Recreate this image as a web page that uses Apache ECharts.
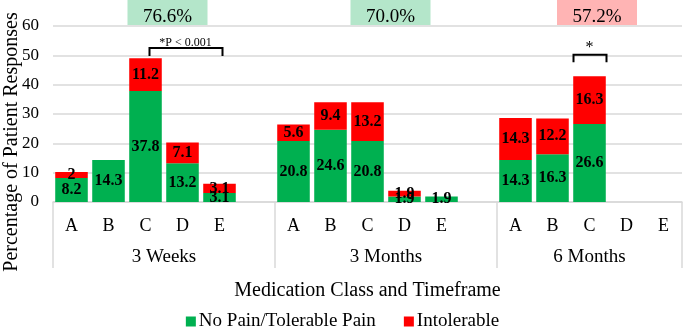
<!DOCTYPE html>
<html>
<head>
<meta charset="utf-8">
<script src="https://cdn.jsdelivr.net/npm/echarts@6/dist/echarts.min.js"></script>
<style>html,body{margin:0;padding:0;background:#fff;}#c{width:685px;height:328px;}</style>
</head>
<body>
<div id="c"></div>
<script>
// ---- data ----
var categories = ['A','B','C','D','E','', 'A','B','C','D','E','', 'A','B','C','D','E'];
var groups = ['3 Weeks', '3 Months', '6 Months'];
var tolerable = [8.2, 14.3, 37.8, 13.2, 3.1, null, 20.8, 24.6, 20.8, 1.9, 1.9, null, 14.3, 16.3, 26.6, null, null];
var intolerable = [2, null, 11.2, 7.1, 3.1, null, 5.6, 9.4, 13.2, 1.9, null, null, 14.3, 12.2, 16.3, null, null];
var groupTotals = ['76.6%', '70.0%', '57.2%'];
var yTicks = [0, 10, 20, 30, 40, 50, 60];

var FONT = 'Liberation Serif';
var GRID = '#d9d9d9';

// secondary (group) axis: half-slot boundary points
var halfPoints = [];
for (var i = 0; i <= categories.length * 2; i++) halfPoints.push(String(i));
var groupLabelAt = {6: groups[0], 18: groups[1], 29: groups[2]};
var groupTickAt = {0: 1, 12: 1, 24: 1, 34: 1};

var chart = echarts.init(document.getElementById('c'));
var labelStyle = {show: true, position: 'inside', color: '#000', fontFamily: FONT, fontWeight: 'bold', fontSize: 16,
  formatter: function (p) { return p.value == null ? '' : String(p.value); }};

chart.setOption({
  animation: false,
  textStyle: {fontFamily: FONT},
  grid: {left: 53, right: 3, top: 26, bottom: 126, containLabel: false},
  legend: {
    top: 307, left: 'center', icon: 'rect', itemWidth: 10, itemHeight: 10, itemGap: 28,
    textStyle: {fontFamily: FONT, fontSize: 19, color: '#000', padding: [0, 0, 0, -2]},
    data: ['No Pain/Tolerable Pain', 'Intolerable']
  },
  xAxis: [{
    type: 'category', data: categories, position: 'bottom',
    axisLine: {lineStyle: {color: GRID, width: 1.5}},
    axisTick: {show: false},
    axisLabel: {interval: 0, margin: 15, fontFamily: FONT, fontSize: 18, color: '#000'}
  }, {
    type: 'category', data: halfPoints, position: 'bottom', boundaryGap: false,
    axisLine: {show: false},
    axisTick: {show: true, length: 66, lineStyle: {color: GRID, width: 1.5},
      interval: function (idx) { return groupTickAt[idx] === 1; }},
    axisLabel: {interval: 0, margin: 46, fontFamily: FONT, fontSize: 19, color: '#000',
      formatter: function (v, idx) { return groupLabelAt[idx] || ''; }},
    name: 'Medication Class and Timeframe', nameLocation: 'middle', nameGap: 79,
    nameTextStyle: {fontFamily: FONT, fontSize: 20, color: '#000'}
  }],
  yAxis: {
    type: 'value', min: yTicks[0], max: yTicks[yTicks.length - 1], interval: 10,
    axisLine: {show: false}, axisTick: {show: false},
    axisLabel: {margin: 14, fontFamily: FONT, fontSize: 17, color: '#000'},
    splitLine: {lineStyle: {color: GRID, width: 1.5}}
  },
  series: [{
    name: 'No Pain/Tolerable Pain', type: 'bar', stack: 'total', data: tolerable,
    barCategoryGap: '12%', itemStyle: {color: '#00b050'}, label: labelStyle
  }, {
    name: 'Intolerable', type: 'bar', stack: 'total', data: intolerable,
    barCategoryGap: '12%', itemStyle: {color: '#ff0000'}, label: labelStyle
  }]
});

// annotations positioned via axis conversion
function px(xIdx, yVal) { return chart.convertToPixel({xAxisIndex: 0, yAxisIndex: 0}, [xIdx, yVal]); }
var slotW = px(1, 0)[0] - px(0, 0)[0];
var groupCenters = [2.5, 8.5, 14.0];
var boxOffsets = [3.5, 4.5, 7.5];
var boxColors = ['#b4e6ca', '#b4e6ca', '#ffb4b4'];
var g = [];
for (var k = 0; k < 3; k++) {
  var cx = px(0, 0)[0] + slotW * groupCenters[k] + boxOffsets[k];
  g.push({type: 'rect', shape: {x: cx - 40, y: 0, width: 80, height: 25}, style: {fill: boxColors[k]}, z: 10});
  g.push({type: 'text', x: cx, y: 17, z: 11, style: {text: groupTotals[k], fontFamily: FONT, fontSize: 19, fill: '#000', textAlign: 'center', textVerticalAlign: 'middle'}});
}
// bracket 3 weeks C..E
var b1l = px(2, 52.5), b1r = px(4, 52.5), b1b = px(2, 49.8);
g.push({type: 'polyline', z: 10, shape: {points: [[b1l[0] + 4, b1b[1]], [b1l[0] + 4, b1l[1]], [b1r[0] + 3, b1l[1]], [b1r[0] + 3, b1b[1]]]}, style: {stroke: '#000', lineWidth: 2, fill: null}});
g.push({type: 'text', z: 10, x: (b1l[0] + b1r[0]) / 2 + 3, y: b1l[1] - 5, style: {text: '*P < 0.001', fontFamily: FONT, fontSize: 12, fill: '#000', textAlign: 'center', textVerticalAlign: 'middle'}});
// bracket 6 months C
var b2 = px(14, 50.2), b2b = px(14, 47.6);
g.push({type: 'polyline', z: 10, shape: {points: [[b2[0] - 16, b2b[1]], [b2[0] - 16, b2[1]], [b2[0] + 17, b2[1]], [b2[0] + 17, b2b[1]]]}, style: {stroke: '#000', lineWidth: 2, fill: null}});
g.push({type: 'text', z: 10, x: b2[0], y: b2[1] - 7, style: {text: '*', fontFamily: FONT, fontSize: 16, fill: '#000', textAlign: 'center', textVerticalAlign: 'middle'}});
// y-axis title
g.push({type: 'text', x: 12, y: 142, rotation: Math.PI / 2, style: {text: 'Percentage of Patient Responses', fontFamily: FONT, fontSize: 20, fill: '#000', textAlign: 'center', textVerticalAlign: 'middle'}});
chart.setOption({graphic: g});
</script>
</body>
</html>
